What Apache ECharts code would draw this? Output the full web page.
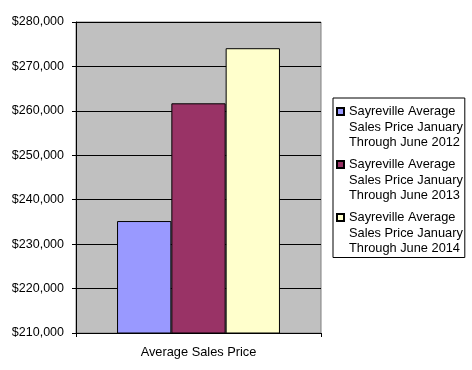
<!DOCTYPE html>
<html><head><meta charset="utf-8">
<script src="https://cdn.jsdelivr.net/npm/echarts@6/dist/echarts.min.js"></script>
<style>html,body{margin:0;padding:0;background:#fff}#c{width:472px;height:370px}</style>
</head><body><div id="c"></div>
<script>
const categories = ['Average Sales Price'];
const seriesNames = [
  'Sayreville Average\nSales Price January\nThrough June 2012',
  'Sayreville Average\nSales Price January\nThrough June 2013',
  'Sayreville Average\nSales Price January\nThrough June 2014'
];
const values2012 = [235200];
const values2013 = [261700];
const values2014 = [274100];
const colors = ['#9999FF', '#993366', '#FFFFCC'];
const yMin = 210000, yMax = 280000, yStep = 10000;

const font = 'Liberation Sans, Arial, sans-serif';
const chart = echarts.init(document.getElementById('c'), null, {renderer: 'canvas'});
const seriesData = [values2012, values2013, values2014];
chart.setOption({
  animation: false,
  backgroundColor: '#ffffff',
  grid: {left: 76, right: 151, top: 22, bottom: 37, show: true, backgroundColor: '#C0C0C0', borderColor: '#808080', borderWidth: 1},
  xAxis: {
    type: 'category', data: categories,
    axisLine: {lineStyle: {color: '#000', width: 1}},
    axisTick: {show: true, length: 4, lineStyle: {color: '#000'}},
    axisLabel: {color: '#000', fontFamily: font, fontSize: 12.8, margin: 13}
  },
  yAxis: {
    type: 'value', min: yMin, max: yMax, interval: yStep,
    axisLine: {show: true, lineStyle: {color: '#000', width: 1}},
    axisTick: {show: true, length: 4, lineStyle: {color: '#000'}},
    splitLine: {show: true, lineStyle: {color: '#000', width: 1}},
    axisLabel: {color: '#000', fontFamily: font, fontSize: 12.5, margin: 12,
      formatter: v => '$' + v.toLocaleString('en-US')}
  },
  legend: {
    orient: 'vertical', left: 333, top: 98,
    data: seriesNames,
    icon: 'path://M0,0L0,0M0,4L7,4L7,11L0,11ZM7,46.5L7,46.5',
    itemWidth: 7, itemHeight: 46.5, itemGap: 4.5,
    padding: [5, 2, 0, 3],
    borderColor: '#000', borderWidth: 1, backgroundColor: '#fff',
    selectedMode: false,
    textStyle: {color: '#000', fontFamily: font, fontSize: 12.8, lineHeight: 15.5}
  },
  series: seriesNames.map((n, i) => ({
    name: n, type: 'bar', data: seriesData[i],
    barGap: '0%', barCategoryGap: '33.5%',
    itemStyle: {color: colors[i], borderColor: '#000', borderWidth: 1}
  }))
});
</script></body></html>
